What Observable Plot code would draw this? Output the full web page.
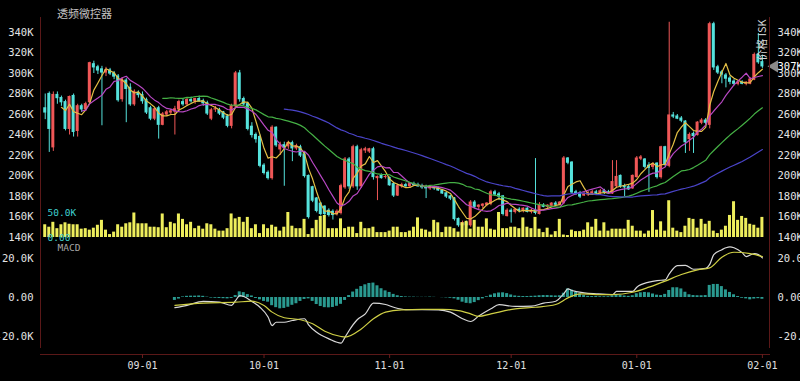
<!DOCTYPE html>
<html><head><meta charset="utf-8">
<script src="https://cdn.jsdelivr.net/npm/d3@7"></script>
<script src="https://cdn.jsdelivr.net/npm/@observablehq/plot@0.6"></script>
<style>
html,body{margin:0;padding:0;background:#000;}
#wrap{position:relative;width:800px;height:381px;background:#000;overflow:hidden;}
#wrap > svg{position:absolute;left:0;top:0;}
.vline{position:absolute;width:1px;background:#5a1818;}
#title{position:absolute;left:57px;top:5px;font:11px "Noto Sans CJK SC",sans-serif;color:#c4c4c4;white-space:nowrap;}
#unit{position:absolute;left:761px;top:40px;transform:translate(-50%,-50%) rotate(-90deg);font:11px "Noto Sans CJK SC",sans-serif;color:#d4d4d4;white-space:nowrap;}
</style></head><body>
<div id="wrap">
  <div class="vline" style="left:40px;top:17px;height:331px"></div>
  <div class="vline" style="left:769px;top:17px;height:331px"></div>
  <div id="title"></div>
  <div id="unit"></div>
</div>
<script>
// ---------- data ----------
const titleText = "透频微控器";
const unitText = "价格 ISK";
const firstDay = "2023-08-08";
const open = [266,280,228,279,276,272,246,278,244,268,265,272,309,306,304,301,303,300,297,275,293,286,270,281,279,
274,266,256,266,250,260,262,263,265,272,270,274,273,275,273,271,256,265,264,262,258,
249,268,300,275,270,248,240,238,210,203,198,247,226,230,229,232,227,228,221,
200,189,178,173,170,166,165,163,
164,189,216,190,228,190,225,224,226,198,200,199,198,192,181,
190,191,190,192,191,190,189,188,189,188,186,183,180,178,158,152,154,152,174,170,171,172,173,184,182,180,161,166,165,167,166,168,165,166,163,171,170,171,173,172,
174,217,213,184,183,181,182,183,184,183,185,184,183,190,200,190,189,188,199,217,216,210,209,212,199,228,
210,259,258,256,253,236,241,240,252,254,250,348,306,301,298,295,292,290,291,290,290,294,318,311];
const high = [280,282,282,282,278,274,278,280,270,270,272,311,312,308,307,306,305,302,299,296,295,290,284,283,282,
276,268,266,268,262,264,265,268,274,275,276,277,276,278,275,273,266,268,266,263,260,
270,302,303,277,272,252,242,240,212,205,249,248,233,233,234,234,231,230,223,
201,190,179,174,171,168,167,167,
192,218,218,230,230,227,228,227,228,200,202,201,199,193,192,
193,193,193,194,193,192,191,190,190,189,187,184,181,179,159,156,156,176,176,172,173,174,186,186,184,181,168,168,168,169,169,169,168,217,174,173,172,174,175,175,
219,218,214,186,185,184,185,186,186,187,187,186,215,215,201,192,191,201,219,220,217,213,213,213,229,229,
350,262,260,258,254,242,243,253,256,256,350,350,308,303,300,297,294,293,293,292,296,320,339,318];
const low = [255,223,224,270,268,244,240,238,238,262,263,270,300,299,249,297,298,294,272,272,252,268,268,276,270,
260,254,254,236,249,258,260,240,263,268,268,271,270,272,268,259,254,262,259,255,247,
246,266,272,268,244,237,232,208,201,196,196,228,220,190,226,214,225,218,198,
158,174,164,161,160,160,157,161,
162,187,187,188,186,188,222,222,196,176,197,197,190,179,180,
188,189,188,190,189,187,178,186,186,185,182,178,176,156,150,150,149,150,168,167,168,170,171,180,176,161,160,154,163,164,164,164,163,162,162,169,168,170,170,171,
172,211,182,181,178,180,180,181,182,181,182,182,182,188,188,180,186,187,198,215,207,184,206,197,197,209,
208,256,255,252,222,224,222,239,250,250,246,303,299,290,286,289,288,288,289,288,289,293,309,305];
const close = [262,246,279,276,272,246,277,243,268,265,270,310,306,303,301,303,300,297,274,294,285,270,282,279,273,
262,256,265,250,260,262,263,265,272,270,274,273,275,273,271,261,264,265,261,257,249,
268,300,275,270,246,240,236,210,203,198,247,230,230,228,232,227,229,220,200,
160,176,166,163,163,162,162,165,
190,216,190,228,190,225,226,226,199,199,198,199,191,181,190,
191,190,192,191,190,189,188,189,188,186,183,180,178,158,152,154,152,174,170,171,172,173,184,182,180,163,166,165,167,166,168,165,166,164,171,170,171,173,172,174,
217,213,184,183,180,182,183,184,183,185,184,183,194,199,190,189,187,200,217,218,209,208,211,199,228,211,
259,258,256,254,233,240,239,252,254,252,348,306,301,299,295,292,290,291,290,291,294,318,311,307];
const volume = [26,21,31,18,26,30,27,26,26,17,18,15,19,25,35,15,6,11,26,21,28,30,50,28,28,28,21,21,20,48,
20,31,28,48,37,26,31,18,23,17,28,26,17,13,13,18,48,38,41,31,41,18,26,8,26,18,25,21,13,21,
51,23,18,18,37,6,18,35,43,45,18,18,18,38,18,21,21,8,31,18,18,21,10,10,10,13,21,21,10,10,
13,21,40,17,15,11,35,30,10,21,21,18,11,30,33,17,35,21,21,38,17,15,51,18,18,21,21,18,40,21,18,
41,17,10,19,5,12,37,5,4,15,12,12,15,30,21,37,13,30,13,17,17,17,17,35,23,13,13,7,13,55,
15,32,13,75,19,13,10,23,39,37,19,37,27,33,13,8,15,23,45,73,35,43,39,27,25,19,41];
const histStartDay = 32;
const macdHist = [-1.5,-0.8,0.3,0.6,0.7,0.7,0.8,0.6,0.2,-0.3,-0.4,-0.5,-0.6,-0.7,-0.5,1.0,2.9,2.5,1.5,0.8,
-0.5,-1.2,-2.0,-2.4,-4.2,-5.2,-5.8,-5.6,-5.0,-4.0,-3.2,-2.0,-1.0,-0.7,-2.0,-3.6,-4.6,-5.2,-5.3,-5.1,
-4.5,-3.5,-1.5,1.0,2.8,4.2,5.6,6.5,7.2,7.4,6.0,4.5,3.4,2.6,1.6,0.9,0.5,0.3,0.2,0.2,
0.1,0.1,0.1,0.2,0.1,0.0,-0.1,-0.2,-0.4,-0.7,-1.4,-2.4,-3.0,-3.2,-2.6,-1.6,-0.7,0.4,1.2,1.9,
2.3,2.4,2.0,1.3,0.8,0.6,0.5,0.5,0.6,0.7,0.9,1.0,1.0,0.9,0.8,0.9,2.2,4.4,3.8,2.6,
1.8,1.0,0.6,0.5,0.5,0.4,0.4,0.4,0.8,1.4,1.2,0.8,0.6,0.9,1.9,2.4,2.6,2.4,1.8,1.2,
1.0,1.6,3.6,5.0,5.0,4.4,2.7,1.4,1.0,0.9,0.9,1.0,6.2,6.7,6.7,5.6,3.9,2.6,1.4,0.5,
-0.4,-0.7,-1.2,-0.8,-0.6,-0.9];
const difDays = [32,35,39,43,46,47,48,49,51,53,55,56,57,59,61,64,65,67,70,73,74,75,77,79,81,84,86,89,93,97,100,103,105,107,110,112,116,120,123,126,128,129,130,133,136,140,141,145,146,149,151,153,154,156,158,160,163,164,165,167,168,169,170,172,173,175,176,177];
const difVals = [-5.2,-4.0,-2.0,-2.4,-4.0,-1.5,1.0,0.5,-2.0,-5.0,-10,-14.4,-12.7,-12.7,-11.8,-10.9,-14,-17.8,-21.2,-23.4,-20.3,-16.9,-11.4,-8.4,-2.9,-3.6,-5,-6.2,-6.2,-6.3,-7.5,-10.9,-12.3,-9.5,-5.8,-3.7,-4.6,-4.4,-2.9,-1.9,2.0,4.4,3.6,2.4,1.9,1.5,3.1,3.1,5.3,7.9,8.7,9.0,12.1,16.4,16.5,14.5,15,17,22,24.5,25.5,26,25.5,23,21,22.5,22,20.3];
const deaDays = [32,39,47,51,54,56,59,63,66,69,73,74,78,81,84,88,93,98,102,105,107,110,116,121,126,129,132,136,140,145,149,153,157,161,164,167,170,174,177];
const deaVals = [-4.0,-2.9,-2.4,-1.9,-4.1,-7.5,-10.4,-11.4,-13.5,-17.3,-20,-20.3,-16.1,-10.9,-7.5,-6.3,-6.1,-6.1,-6.7,-8.4,-9.7,-8.4,-5.8,-5.0,-3.6,-0.2,1.9,1.5,1.5,2.7,5.3,8.4,11.8,14.2,15.2,20.7,23.2,22.5,21];
const priceTicks = [140,160,180,200,220,240,260,280,300,320,340];
const volumeTicks = [0,50];
const macdTicks = [-20,0,20];
const dateTicks = ["2023-09-01","2023-10-01","2023-11-01","2023-12-01","2024-01-01","2024-02-01"];
const maWindows = [5,10,30,60];
const maColors = ["#e3bf45","#b848c4","#45b045","#4a44c8"];

// ---------- build ----------
document.getElementById("title").textContent = titleText;
document.getElementById("unit").textContent = unitText;
const start = new Date(firstDay);
const candles = close.map((c,i)=>({date:d3.utcDay.offset(start,i),open:open[i],high:high[i],low:low[i],close:c,volume:volume[i]}));
const hist = macdHist.map((v,i)=>({date:d3.utcDay.offset(start,histStartDay+i),value:v}));
const dif = difDays.map((d,i)=>({date:d3.utcDay.offset(start,d),value:difVals[i]}));
const dea = deaDays.map((d,i)=>({date:d3.utcDay.offset(start,d),value:deaVals[i]}));
const lastClose = close[close.length-1];

const RED="#ef5757", CYAN="#55e2dc";
const dirColor = d => d.close >= d.open ? RED : CYAN;
const halfW = 0.37*864e5;
const bx1 = d => new Date(+d.date - halfW), bx2 = d => new Date(+d.date + halfW);
const xDomain = [new Date(Date.UTC(2023,7,6,20)), new Date(Date.UTC(2024,1,3))];
const base = {width:800,height:381,marginLeft:40,marginRight:30,
  style:{background:"transparent",color:"#e4e4e4",fontFamily:"'DejaVu Sans Mono',monospace",fontSize:"10.5px",overflow:"visible"}};
const fmtK = d => d + "K";
const fmtM = d => d === 0 ? "0.00" : d.toFixed(1) + "K";

const pricePlot = Plot.plot({...base, marginTop:32, marginBottom:144,
  x:{type:"utc",domain:xDomain,axis:null},
  y:{domain:[140,340],label:null},
  color:{type:"identity"},
  marks:[
    Plot.ruleX(candles,{x:"date",y1:"low",y2:"high",stroke:dirColor,strokeWidth:1}),
    Plot.rect(candles,{x1:bx1,x2:bx2,y1:"open",y2:"close",fill:dirColor,insetTop:-0.6,insetBottom:-0.6}),
    ...maWindows.map((k,j)=>Plot.lineY(candles,Plot.windowY({k,anchor:"end",strict:true},{x:"date",y:"close",stroke:maColors[j],strokeWidth:1.2}))),
    Plot.axisY(priceTicks,{anchor:"left",tickSize:0,tickPadding:7,tickFormat:fmtK,label:null}),
    Plot.axisY(priceTicks,{anchor:"right",tickSize:0,tickPadding:7,tickFormat:fmtK,label:null}),
    Plot.dot([lastClose],{x:()=>xDomain[1],y:d=>d,symbol:"triangle",rotate:-90,r:4.5,fill:"#8a8a8a",dx:4}),
    Plot.text([lastClose],{x:()=>xDomain[1],y:d=>d,text:fmtK,dx:7,textAnchor:"start",fill:"#ffffff"})
  ]});

const volPlot = Plot.plot({...base, marginTop:212.5, marginBottom:144,
  x:{type:"utc",domain:xDomain,axis:null},
  y:{domain:[0,50],label:null},
  marks:[
    Plot.rect(candles,{x1:bx1,x2:bx2,y1:0,y2:"volume",fill:"#eeee5c"}),
    Plot.axisY(volumeTicks,{anchor:"left",tickSize:0,tickPadding:3,dx:10,textAnchor:"start",tickFormat:fmtM,fill:"#3fcfcf",fontSize:9.5,label:null})
  ]});

const macdPlot = Plot.plot({...base, marginTop:245, marginBottom:27,
  x:{type:"utc",domain:xDomain},
  y:{domain:[-29.23,26.67],label:null},
  marks:[
    Plot.rect(hist,{x1:bx1,x2:bx2,y1:0,y2:"value",fill:"#2a9a90"}),
    Plot.line(dif,{x:"date",y:"value",stroke:"#d8d8d8",strokeWidth:1.2,curve:"monotone-x"}),
    Plot.line(dea,{x:"date",y:"value",stroke:"#cfcf45",strokeWidth:1.2,curve:"monotone-x"}),
    Plot.ruleY([-29.23],{stroke:"#5a1818"}),
    Plot.axisY(macdTicks,{anchor:"left",tickSize:0,tickPadding:7,tickFormat:fmtM,label:null}),
    Plot.axisY(macdTicks,{anchor:"right",tickSize:0,tickPadding:7,tickFormat:fmtM,label:null}),
    Plot.axisX(dateTicks.map(s=>new Date(s)),{anchor:"bottom",tickSize:4,tickPadding:3,tickFormat:d3.utcFormat("%m-%d"),stroke:"#6a1c1c",fill:"#e0e0e0",label:null,fontSize:10}),
    Plot.text(["MACD"],{frameAnchor:"top-left",textAnchor:"start",lineAnchor:"middle",dx:17,dy:2,fill:"#a8a8a8",fontSize:9.5})
  ]});

const wrap = document.getElementById("wrap");
wrap.prepend(macdPlot);
wrap.prepend(volPlot);
wrap.prepend(pricePlot);
// order: price, volume, macd drawn in that stacking order
wrap.insertBefore(pricePlot, wrap.firstChild);
wrap.insertBefore(volPlot, pricePlot.nextSibling);
wrap.insertBefore(macdPlot, volPlot.nextSibling);
</script>
</body></html>
